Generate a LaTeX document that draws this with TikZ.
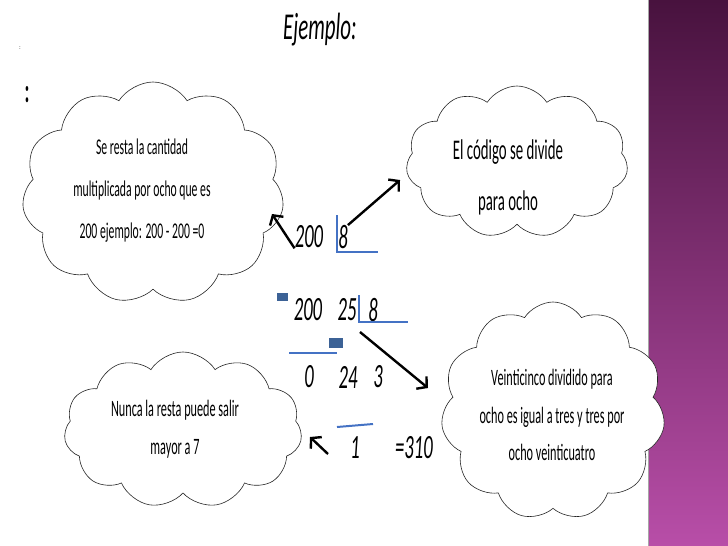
\documentclass[tikz,border=0pt]{standalone}
\usepackage{fontspec}
\usetikzlibrary{arrows.meta,positioning,shapes.symbols}
\newfontfamily\estrecha[FakeStretch=0.52]{Carlito}
\newfontfamily\cifra[FakeStretch=0.55]{Carlito}
\definecolor{azul}{RGB}{68,114,196}
\definecolor{azuloscuro}{RGB}{60,98,150}
\definecolor{moradoarriba}{RGB}{72,18,62}
\definecolor{moradoabajo}{RGB}{184,78,168}
\tikzset{
  nube/.style={cloud,draw=black!85,fill=white,line width=0.6pt,cloud puffs=11,cloud puff arc=115,
               cloud ignores aspect,inner sep=0pt},
  texto/.style={align=center,inner sep=0pt},
  numero/.style={font=\cifra\itshape\fontsize{34}{34}\selectfont,inner sep=0pt},
  flecha/.style={-{Straight Barb[length=7pt,width=16pt]},line width=2.4pt},
  raya/.style={draw=azul,line width=2pt},
  cuadrito/.style={fill=azuloscuro,inner sep=0pt},
}
\begin{document}
\begin{tikzpicture}[x=1pt,y=-1pt]
  \useasboundingbox (0,0) rectangle (728,546);
  % franja lateral
  \shade[top color=moradoarriba,bottom color=moradoabajo] (648,0) rectangle (728,546);
  \draw[black!35,line width=1.2pt] (648.6,0) -- (648.6,546);
  \node[font=\cifra\itshape\fontsize{38}{38}\selectfont] (titulo) at (320,30) {Ejemplo:};
  \node[font=\fontsize{7}{7}\selectfont] (dos1) at (20,48) {:};
  \node[font=\estrecha\bfseries\fontsize{34}{34}\selectfont] (dos2) at (27,95) {:};
  % nubes
  \node[nube,minimum width=262pt,minimum height=222pt] (nube1) at (153,193) {};
  \node[texto,font=\estrecha\fontsize{22.5}{42}\selectfont] (t1) at (142,191)
    {Se resta la cantidad\\multiplicada por ocho que es\\200 ejemplo: 200 - 200 =0};
  \node[nube,minimum width=222pt,minimum height=152pt] (nube2) at (517,162) {};
  \node[texto,font=\estrecha\fontsize{28.5}{51}\selectfont] (t2) at (508,177) {El código se divide\\para ocho};
  \node[nube,minimum width=224pt,minimum height=218pt] (nube3) at (553,411) {};
  \node[texto,font=\estrecha\fontsize{23.5}{37.5}\selectfont] (t3) at (552,415)
    {Veinticinco dividido para\\ocho es igual a tres y tres por\\ocho veinticuatro};
  \node[nube,minimum width=238pt,minimum height=156pt] (nube4) at (183,430) {};
  \node[texto,font=\estrecha\fontsize{23.5}{38}\selectfont] (t4) at (175,429)
    {Nunca la resta puede salir\\mayor a 7};
  % division
  \node[numero] (n200a) at (309,237) {200};
  \node[numero] (n8a) at (343,237) {8};
  \node[numero] (n200b) at (308,310) {200};
  \node[numero] (n25) at (347,310) {25};
  \node[numero] (n8b) at (373,310) {8};
  \node[numero] (n0) at (309,377) {0};
  \node[numero] (n24) at (348,377) {24};
  \node[numero] (n3) at (378,377) {3};
  \node[numero] (n1) at (355,448) {1};
  \node[numero] (n310) at (414,448) {=310};
  \draw[raya] (337,215) -- (337,252) -- (378,252);
  \draw[raya] (359,295) -- (359,322) -- (408,322);
  \draw[raya] (289,353) -- (337,353);
  \draw[raya] (337,427) -- (373,424);
  \node[cuadrito,minimum width=11pt,minimum height=8pt] (c1) at (282.5,297) {};
  \node[cuadrito,minimum width=14pt,minimum height=10pt] (c2) at (336,343) {};
  % flechas
  \coordinate (f1) at (272,214);
  \coordinate (f2) at (400,180);
  \coordinate (f3a) at (360,332);
  \coordinate (f3) at (428,388);
  \coordinate (f4a) at (328,454);
  \coordinate (f4) at (310,437);
  \draw[flecha] (n200a.south west) -- (f1);
  \draw[flecha] (n8a.north east) -- (f2);
  \draw[flecha] (f3a) -- (f3);
  \draw[flecha] (f4a) -- (f4);
\end{tikzpicture}
\end{document}
